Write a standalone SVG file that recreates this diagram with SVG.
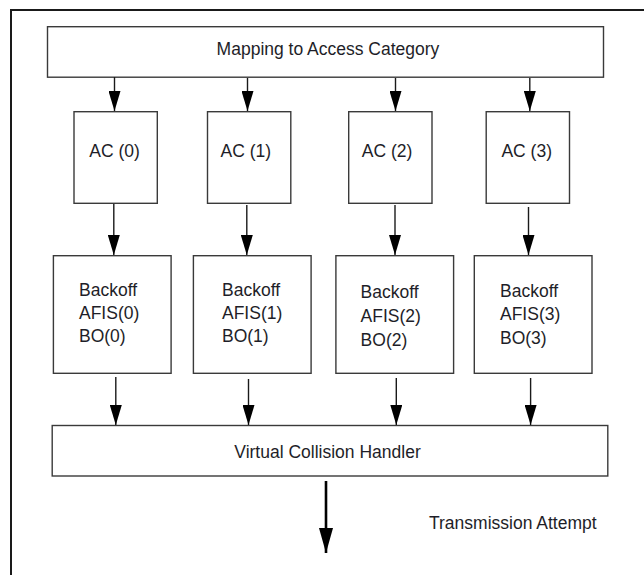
<svg xmlns="http://www.w3.org/2000/svg" width="644" height="575" viewBox="0 0 644 575">
<style>
  .box { fill: #ffffff; stroke: #3a3a3a; stroke-width: 1.4; }
  .t { font-family: "Liberation Sans", Arial, sans-serif; font-size: 17.5px; fill: #1e1e28; }
  .c { text-anchor: middle; }
  .ln { stroke: #1a1a1a; stroke-width: 1.4; fill: none; }
  .big { stroke: #000000; stroke-width: 2.6; fill: none; }
</style>
<defs>
  <marker id="ah" markerUnits="userSpaceOnUse" markerWidth="20" markerHeight="12" refX="20" refY="6" orient="auto" viewBox="0 0 20 12">
    <path d="M0,0 L20,6 L0,12 Z" fill="#000"/>
  </marker>
  <marker id="ahb" markerUnits="userSpaceOnUse" markerWidth="25" markerHeight="14" refX="25" refY="7" orient="auto" viewBox="0 0 25 14">
    <path d="M0,0 L25,7 L0,14 Z" fill="#000"/>
  </marker>
</defs>
<rect width="644" height="575" fill="#ffffff"/>
<path d="M11,585 L11,10 L660,10" fill="none" stroke="#1a1a1a" stroke-width="2"/>

<g id="mapping">
  <rect class="box" x="47.5" y="26.7" width="556" height="50.5"/>
  <text class="t c" x="328" y="55">Mapping to Access Category</text>
</g>

<g id="ac0"><rect class="box" x="74" y="111.7" width="83.3" height="91.6"/><text class="t c" x="114.5" y="157">AC (0)</text></g>
<g id="ac1"><rect class="box" x="207.5" y="111.7" width="83.3" height="91.6"/><text class="t c" x="245.8" y="157">AC (1)</text></g>
<g id="ac2"><rect class="box" x="348.7" y="111.7" width="83.3" height="91.6"/><text class="t c" x="387" y="157">AC (2)</text></g>
<g id="ac3"><rect class="box" x="486.2" y="111.7" width="83.3" height="91.6"/><text class="t c" x="526.7" y="157">AC (3)</text></g>

<g id="backoff0"><rect class="box" x="53.4" y="255.7" width="117.7" height="117.6"/>
  <text class="t" x="79" y="295.7">Backoff</text><text class="t" x="79" y="319">AFIS(0)</text><text class="t" x="79" y="342.3">BO(0)</text></g>
<g id="backoff1"><rect class="box" x="193.4" y="255.7" width="117.7" height="117.6"/>
  <text class="t" x="222" y="295.7">Backoff</text><text class="t" x="222" y="319">AFIS(1)</text><text class="t" x="222" y="342.3">BO(1)</text></g>
<g id="backoff2"><rect class="box" x="335.9" y="255.7" width="117.7" height="117.6"/>
  <text class="t" x="360.6" y="297.7">Backoff</text><text class="t" x="360.6" y="321.7">AFIS(2)</text><text class="t" x="360.6" y="345.7">BO(2)</text></g>
<g id="backoff3"><rect class="box" x="474.3" y="255.7" width="117.7" height="117.6"/>
  <text class="t" x="500" y="296.7">Backoff</text><text class="t" x="500" y="320">AFIS(3)</text><text class="t" x="500" y="344">BO(3)</text></g>

<g id="vch">
  <rect class="box" x="52.2" y="425.5" width="555.6" height="50.5"/>
  <text class="t c" x="327.5" y="458">Virtual Collision Handler</text>
</g>

<g id="label-transmission">
  <text class="t" x="429" y="529">Transmission Attempt</text>
</g>

<g id="connectors">
  <line class="ln" x1="114.5" y1="77" x2="114.5" y2="111" marker-end="url(#ah)"/>
  <line class="ln" x1="247.5" y1="78" x2="247.5" y2="111" marker-end="url(#ah)"/>
  <line class="ln" x1="395.5" y1="78" x2="395.5" y2="111" marker-end="url(#ah)"/>
  <line class="ln" x1="529.8" y1="78" x2="529.8" y2="111" marker-end="url(#ah)"/>

  <line class="ln" x1="113.8" y1="204" x2="113.8" y2="255" marker-end="url(#ah)"/>
  <line class="ln" x1="246.8" y1="205" x2="246.8" y2="255" marker-end="url(#ah)"/>
  <line class="ln" x1="395" y1="205" x2="395" y2="255" marker-end="url(#ah)"/>
  <line class="ln" x1="528.5" y1="207" x2="528.5" y2="255" marker-end="url(#ah)"/>

  <line class="ln" x1="115.8" y1="377" x2="115.8" y2="425" marker-end="url(#ah)"/>
  <line class="ln" x1="248.5" y1="379" x2="248.5" y2="425" marker-end="url(#ah)"/>
  <line class="ln" x1="396.3" y1="378" x2="396.3" y2="425" marker-end="url(#ah)"/>
  <line class="ln" x1="530.6" y1="378" x2="530.6" y2="425" marker-end="url(#ah)"/>

  <line class="big" x1="326" y1="481" x2="326" y2="553" marker-end="url(#ahb)"/>
</g>
</svg>
